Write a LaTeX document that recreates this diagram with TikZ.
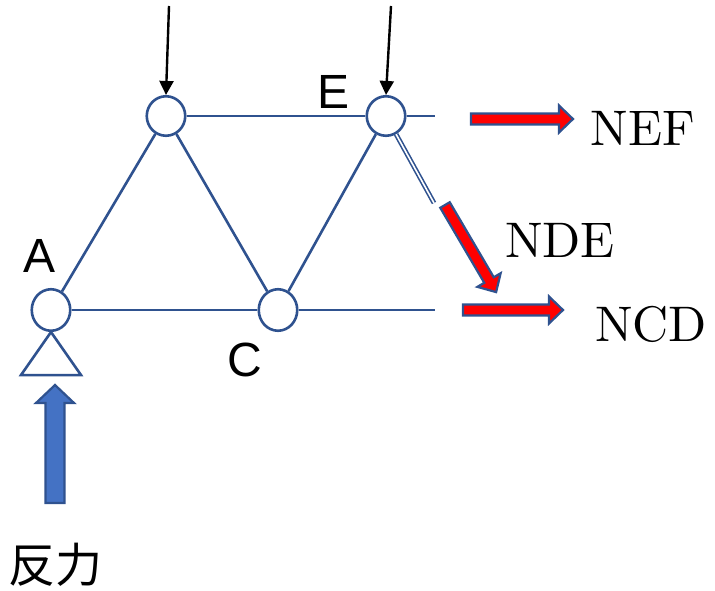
\documentclass[tikz,border=0pt]{standalone}
\usepackage{fontspec}
\setsansfont{Liberation Sans}
\newfontfamily\cjkfont{Noto Sans CJK JP}
\newfontfamily\labelfont{lmroman10-regular.otf}
\usepackage{tikz}
\usetikzlibrary{arrows.meta, shapes.geometric}
\usepackage{xcolor}
\definecolor{trussblue}{RGB}{47,82,143}
\definecolor{pushblue}{RGB}{68,114,196}

% block arrow: style, tail, angle, length, shaft half width, head half width, head length
\newcommand{\forcearrow}[7]{%
    \path [#1, shift={#2}, rotate=#3]
        (0, -#5) -- (#4-#7, -#5) -- (#4-#7, -#6) -- (#4, 0)
        -- (#4-#7, #6) -- (#4-#7, #5) -- (0, #5) -- cycle;}

\begin{document}
\begin{tikzpicture}[x=1pt, y=-1pt,
        joint/.style={ellipse, draw=trussblue, line width=2.6pt, fill=white,
            inner sep=0pt, minimum width=38.5pt, minimum height=39.5pt},
        member/.style={draw=trussblue, line width=2.6pt},
        load/.style={draw=black, line width=2.4pt, -{Triangle[length=14pt, width=14pt]}},
        redforce/.style={fill=red, draw=trussblue, line width=2.2pt, line join=miter},
        pushforce/.style={fill=pushblue, draw=trussblue, line width=2.2pt, line join=miter},
        letter/.style={font=\sffamily\fontsize{48}{56}\selectfont, inner sep=0pt},
        force/.style={font=\labelfont\fontsize{50}{60}\selectfont, inner sep=0pt}]
        \useasboundingbox (0, 0) rectangle (715, 591);
        % Joints
        \node [joint, minimum height=41.5pt] (A) at (51, 310) {};
        \node [joint] (B) at (166, 116) {};
        \node [joint, minimum height=41.5pt] (C) at (278, 310) {};
        \node [joint] (E) at (386, 116) {};
        \coordinate (efEnd) at (435, 116);
        \coordinate (cdEnd) at (435, 310);
        \coordinate (deEnd) at (434, 203);
        % Members
        \draw [member] (A) -- (B);
        \draw [member] (B) -- (C);
        \draw [member] (C) -- (E);
        \draw [member] (B) -- (E);
        \draw [member] (E) -- (efEnd);
        \draw [member] (A) -- (C);
        \draw [member] (C) -- (cdEnd);
        \draw [member, line width=1.6pt, double=white, double distance=1.6pt] (E) -- (deEnd);
        % Support
        \draw [member, line join=miter] (A.south) -- ++(-30, 43) -- ++(60, 0) -- cycle;
        % Loads
        \coordinate (loadB) at (169, 6);
        \coordinate (loadE) at (391, 6);
        \draw [load] (loadB) -- (B.north);
        \draw [load] (loadE) -- (E.north);
        % Forces
        \forcearrow{redforce}{(471, 119)}{0}{102}{5.5}{13.5}{14}
        \forcearrow{redforce}{(463, 310)}{0}{100}{5.5}{13.5}{14}
        \forcearrow{redforce}{(445, 205)}{-59.6}{101}{5.5}{13.5}{14}
        \forcearrow{pushforce}{(55, 503)}{90}{118}{9.5}{19}{18}
        % Labels
        \node [letter] (labA) at (40, 256) {A};
        \node [letter] (labE) at (334, 92) {E};
        \node [letter] (labC) at (245, 360) {C};
        \node [force] (labEF) at (643, 128) {NEF};
        \node [force] (labDE) at (560, 240) {NDE};
        \node [force] (labCD) at (651, 324) {NCD};
        \node [inner sep=0pt, font=\cjkfont\fontsize{47}{56}\selectfont] (labR) at (56, 565) {反力};
    \end{tikzpicture}
\end{document}
